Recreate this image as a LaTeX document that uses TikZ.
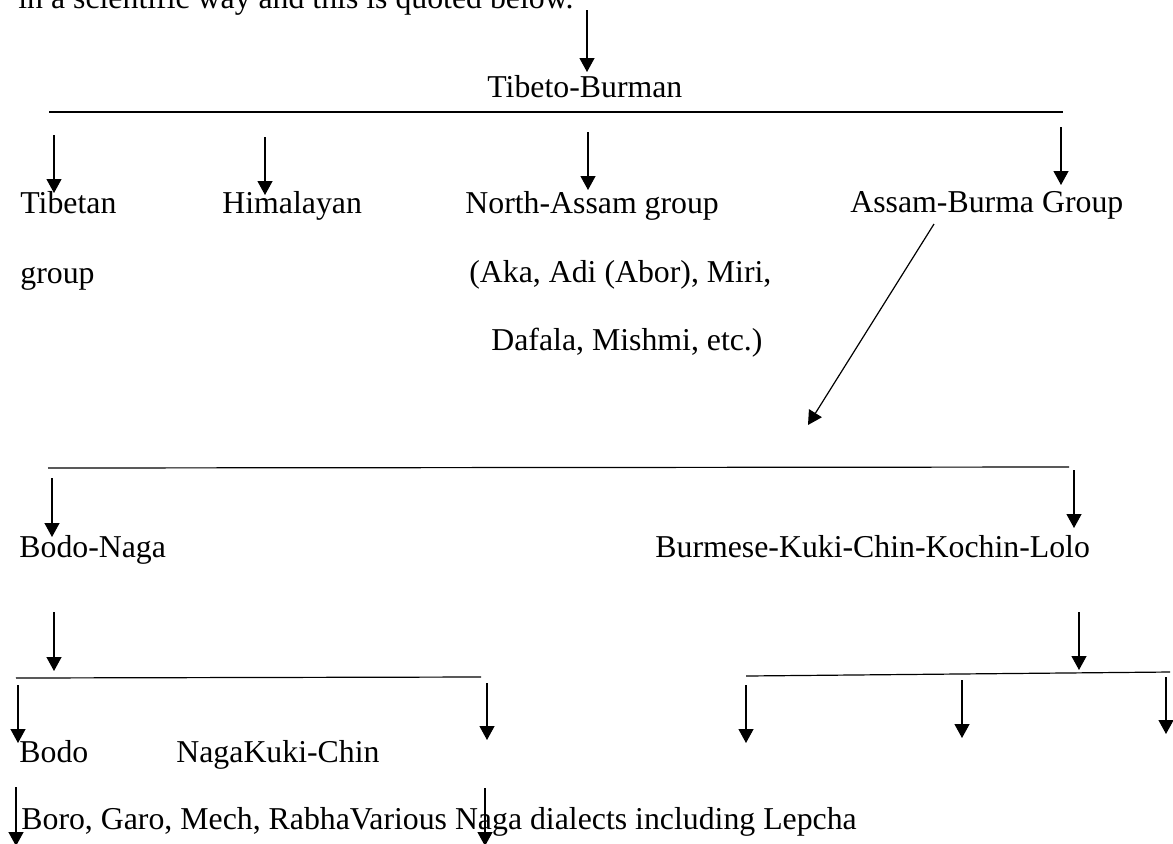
\documentclass[tikz,border=0pt]{standalone}
\usepackage{fontspec}
\setmainfont{Liberation Serif}
\usetikzlibrary{arrows.meta}

\begin{document}
\begin{tikzpicture}[x=0.5pt, y=-0.5pt, font=\fontsize{15.9}{19}\selectfont,
    lbl/.style={anchor=base west, inner sep=0pt},
    arr/.style={line width=0.6pt, -{Triangle[length=7pt, width=7.5pt]}},
    bar/.style={line width=0.6pt}]
      \useasboundingbox (0,0) rectangle (1173,843);

      \node[lbl] (intro) at (18,8) {in a scientific way and this is quoted below.};
      \node[lbl] (tb) at (487,97) {Tibeto-Burman};

      \node[lbl] (tibetan) at (20,213) {Tibetan};
      \node[lbl] (tibgroup) at (20,283) {group};
      \node[lbl] (himal) at (222,213) {Himalayan};
      \node[lbl] (north) at (465,213) {North-Assam group};
      \node[lbl] (northa) at (469,282) {(Aka, Adi (Abor), Miri,};
      \node[lbl] (northb) at (491,350) {Dafala, Mishmi, etc.)};
      \node[lbl] (ab) at (850,212) {Assam-Burma Group};

      \node[lbl] (bn) at (19,557) {Bodo-Naga};
      \node[lbl] (bkc) at (655,557) {Burmese-Kuki-Chin-Kochin-Lolo};

      \node[lbl] (bodo) at (19,762) {Bodo};
      \node[lbl] (nkc) at (176,762) {NagaKuki-Chin};
      \node[lbl] (dial) at (21,829) {Boro, Garo, Mech, RabhaVarious Naga dialects including Lepcha};

      \coordinate (top) at (587,10);
      \coordinate (tbtip) at (587,72);
      \coordinate (L1a) at (49,112);
      \coordinate (L1b) at (1063,112);
      \coordinate (L2a) at (48,468);
      \coordinate (L2b) at (1069,467);
      \coordinate (L3a) at (16,678);
      \coordinate (L3b) at (481,677);
      \coordinate (L4a) at (746,676);
      \coordinate (L4b) at (1170,672);
      \coordinate (abfoot) at (934,224);
      \coordinate (abtip) at (808,425);

      \draw[arr] (top) -- (tbtip);
      \draw[bar] (L1a) -- (L1b);
      \draw[bar] (L2a) -- (L2b);
      \draw[bar] (L3a) -- (L3b);
      \draw[bar] (L4a) -- (L4b);

      \draw[arr] (54,135) -- (54,193);
      \draw[arr] (265,137) -- (265,195);
      \draw[arr] (588,132) -- (588,190);
      \draw[arr] (1061,127) -- (1061,185);
      \draw[arr] (abfoot) -- (abtip);

      \draw[arr] (52,478) -- (52,537);
      \draw[arr] (1074,470) -- (1074,528);
      \draw[arr] (54,612) -- (54,671);
      \draw[arr] (1079,612) -- (1079,670);

      \draw[arr] (18,685) -- (18,743);
      \draw[arr] (487,683) -- (487,740);
      \draw[arr] (746,685) -- (746,743);
      \draw[arr] (962,680) -- (962,738);
      \draw[arr] (1166,677) -- (1166,734);

      \draw[arr] (16,787) -- (16,846);
      \draw[arr] (485,788) -- (485,846);
    \end{tikzpicture}
\end{document}
